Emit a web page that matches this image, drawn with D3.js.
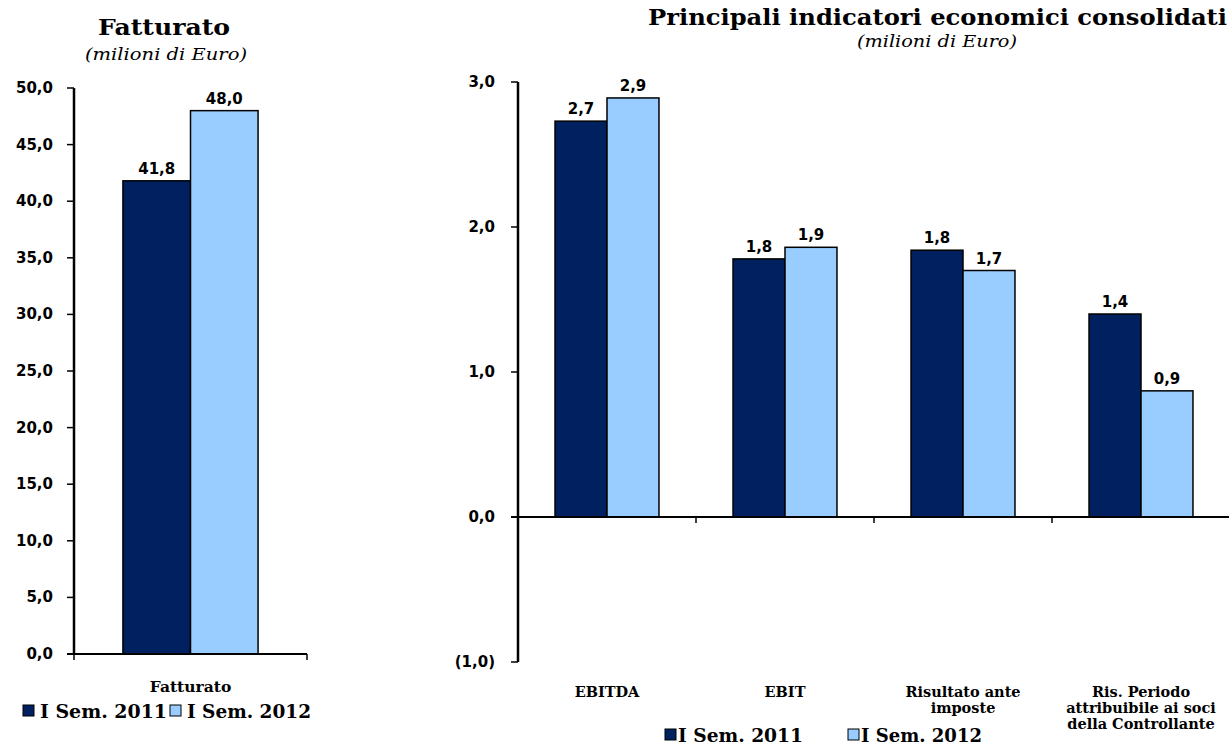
<!DOCTYPE html>
<html>
<head>
<meta charset="utf-8">
<script src="https://cdn.jsdelivr.net/npm/d3@7"></script>
<style>
  body { margin: 0; background: #fff; }
  svg { display: block; }
</style>
</head>
<body>
<svg id="chart"></svg>
<script>
// data
const series = ["I Sem. 2011", "I Sem. 2012"];
const colors = ["#002060", "#99CCFF"];

const leftCategories = ["Fatturato"];
const leftValues2011 = [41.8];
const leftValues2012 = [48.0];
const leftTicks = [0, 5, 10, 15, 20, 25, 30, 35, 40, 45, 50];

const rightCategories = [
    ["EBITDA"],
    ["EBIT"],
    ["Risultato ante", "imposte"],
    ["Ris. Periodo", "attribuibile ai soci", "della Controllante"]
];
const rightValues2011 = [2.73, 1.78, 1.84, 1.40];
const rightValues2012 = [2.89, 1.86, 1.70, 0.87];
const rightTicks = [-1, 0, 1, 2, 3];

const width = 1229;
const height = 745;
const serif = "'DejaVu Serif', 'Liberation Serif', serif";
const sans = "'DejaVu Sans', Verdana, sans-serif";

const svg = d3.select("#chart")
    .attr("width", width)
    .attr("height", height);

const fmt = v =>
{
    const s = Math.abs(v).toFixed(1).replace(".", ",");
    return v < 0 ? "(" + s + ")" : s;
};

function drawChart(cfg)
{
    const g = svg.append("g");

    const y = d3.scaleLinear().domain(cfg.domain).range([cfg.bottom, cfg.top]);
    const x = d3.scaleBand()
        .domain(cfg.categories.map((d, i) => i))
        .range([cfg.left, cfg.right])
        .paddingInner(cfg.padInner)
        .paddingOuter(cfg.padOuter);
    const xs = d3.scaleBand().domain([0, 1]).range([0, x.bandwidth()]);

    const rows = cfg.categories.map((c, i) => ({i, vals: [cfg.v1[i], cfg.v2[i]]}));

    // bars
    const groups = g.selectAll(".grp")
        .data(rows)
        .enter().append("g")
        .attr("transform", d => `translate(${x(d.i)},0)`);

    groups.selectAll("rect")
        .data(d => d.vals.map((v, k) => ({v, k})))
        .enter().append("rect")
        .attr("x", d => xs(d.k))
        .attr("y", d => y(Math.max(0, d.v)))
        .attr("width", xs.bandwidth())
        .attr("height", d => Math.abs(y(d.v) - y(0)))
        .attr("fill", d => colors[d.k])
        .attr("stroke", "#000")
        .attr("stroke-width", 1.5);

    groups.selectAll("text.val")
        .data(d => d.vals.map((v, k) => ({v, k})))
        .enter().append("text")
        .attr("class", "val")
        .attr("x", d => xs(d.k) + xs.bandwidth() / 2)
        .attr("y", d => y(d.v) - 7)
        .attr("text-anchor", "middle")
        .attr("font-family", sans)
        .attr("font-weight", "bold")
        .attr("font-size", "15px")
        .text(d => fmt(d.v));

    // y axis
    g.append("line")
        .attr("x1", cfg.left).attr("x2", cfg.left)
        .attr("y1", y(cfg.domain[1])).attr("y2", y(cfg.domain[0]))
        .attr("stroke", "#000").attr("stroke-width", 2.5);

    g.selectAll(".ytick")
        .data(cfg.ticks)
        .enter().append("line")
        .attr("x1", cfg.left - 7).attr("x2", cfg.left)
        .attr("y1", d => y(d)).attr("y2", d => y(d))
        .attr("stroke", "#000").attr("stroke-width", 1.5);

    g.selectAll(".ylab")
        .data(cfg.ticks)
        .enter().append("text")
        .attr("x", cfg.labelX)
        .attr("y", d => y(d) + 5)
        .attr("text-anchor", "end")
        .attr("font-family", sans)
        .attr("font-weight", "bold")
        .attr("font-size", "15px")
        .text(d => fmt(d));

    // zero line
    g.append("line")
        .attr("x1", cfg.left - 7).attr("x2", cfg.right)
        .attr("y1", y(0)).attr("y2", y(0))
        .attr("stroke", "#000").attr("stroke-width", 2);

    const catTicks = cfg.categories.map((c, i) => x(i) - x.step() * x.paddingInner() / 2).slice(1);
    if (cfg.endTicks) catTicks.push(cfg.left, cfg.right);
    g.selectAll(".xtick")
        .data(catTicks)
        .enter().append("line")
        .attr("x1", d => d).attr("x2", d => d)
        .attr("y1", y(0)).attr("y2", y(0) + 6)
        .attr("stroke", "#000").attr("stroke-width", 1.5);

    // category labels, one text per line
    rows.forEach(d =>
    {
        g.selectAll(null)
            .data(cfg.categories[d.i])
            .enter().append("text")
            .attr("x", x(d.i) + x.bandwidth() / 2)
            .attr("y", (t, j) => cfg.catY + j * 16)
            .attr("text-anchor", "middle")
            .attr("font-family", serif)
            .attr("font-weight", "bold")
            .attr("font-size", cfg.catSize)
            .text(t => t);
    });

    // titles
    svg.append("text")
        .attr("x", cfg.titleX).attr("y", cfg.titleY)
        .attr("text-anchor", cfg.titleAnchor)
        .attr("font-family", serif)
        .attr("font-weight", "bold")
        .attr("font-size", cfg.titleSize)
        .attr("textLength", cfg.titleLen)
        .attr("lengthAdjust", "spacingAndGlyphs")
        .text(cfg.title);
    svg.append("text")
        .attr("x", cfg.subX).attr("y", cfg.subY)
        .attr("text-anchor", "middle")
        .attr("font-family", serif)
        .attr("font-style", "italic")
        .attr("font-size", cfg.subSize)
        .attr("textLength", cfg.subLen)
        .attr("lengthAdjust", "spacingAndGlyphs")
        .text("(milioni di Euro)");

    // legend
    cfg.legend.forEach((p, k) =>
    {
        svg.append("rect")
            .attr("x", p[0]).attr("y", cfg.legendY - cfg.sq - 2)
            .attr("width", cfg.sq).attr("height", cfg.sq)
            .attr("fill", colors[k]).attr("stroke", "#000").attr("stroke-width", 1);
        svg.append("text")
            .attr("x", p[0] + cfg.sq + cfg.gap).attr("y", cfg.legendY)
            .attr("font-family", serif)
            .attr("font-weight", "bold")
            .attr("font-size", cfg.legendSize)
            .attr("textLength", p[1])
            .attr("lengthAdjust", "spacingAndGlyphs")
            .text(series[k]);
    });
}

drawChart({
    categories: leftCategories.map(d => [d]),
    v1: leftValues2011, v2: leftValues2012,
    domain: [0, 50], ticks: leftTicks,
    top: 88, bottom: 654, left: 74, right: 307,
    padInner: 0.42, padOuter: 0.21,
    labelX: 53, endTicks: true,
    catY: 692, catSize: "15.5px",
    title: "Fatturato", titleX: 164, titleY: 35, titleAnchor: "middle", titleSize: "23px", titleLen: 132,
    subX: 166, subY: 60, subSize: "17px", subLen: 162,
    legend: [[23, 127], [170, 124]], legendY: 718, sq: 11, gap: 6, legendSize: "19px"
});

drawChart({
    categories: rightCategories,
    v1: rightValues2011, v2: rightValues2012,
    domain: [-1, 3], ticks: rightTicks,
    top: 82, bottom: 662, left: 518, right: 1230,
    padInner: 0.416, padOuter: 0.208,
    labelX: 495, endTicks: false,
    catY: 697, catSize: "14.5px",
    title: "Principali indicatori economici consolidati", titleX: 648, titleY: 25, titleAnchor: "start", titleSize: "22px", titleLen: 579,
    subX: 937, subY: 47, subSize: "17px", subLen: 160,
    legend: [[665, 125], [848, 121]], legendY: 742, sq: 11, gap: 2, legendSize: "19px"
});
</script>
</body>
</html>
